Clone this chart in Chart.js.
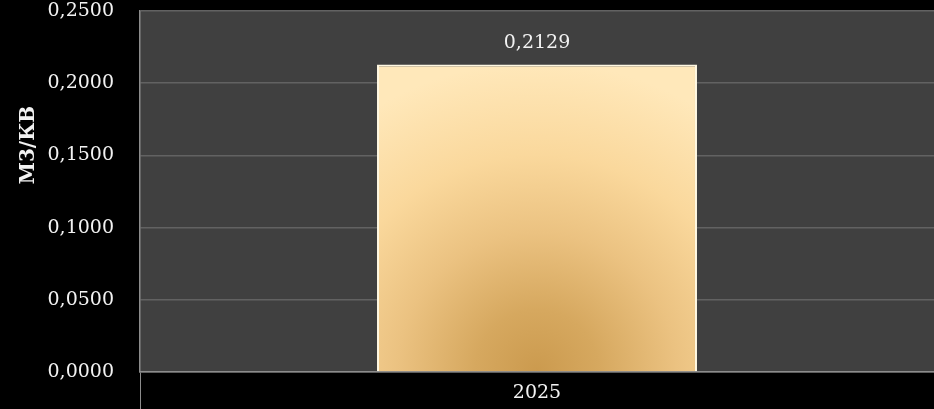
<!DOCTYPE html>
<html>
<head>
<meta charset="utf-8">
<script src="https://cdn.jsdelivr.net/npm/chart.js@4"></script>
<style>
  html, body { margin: 0; padding: 0; background: #000; }
  #wrap { width: 934px; height: 409px; position: relative; }
</style>
</head>
<body>
<div id="wrap"><canvas id="chart"></canvas></div>
<script>
// dane
const categories = ['2025'];
const values = [0.2129];
const yTicks = [0, 0.05, 0.10, 0.15, 0.20, 0.25];
const yTitle = 'М3/КВ';

const FONT = '"DejaVu Serif", "Liberation Serif", serif';
const fmt = v => v.toFixed(4).replace('.', ',');

// tło obszaru wykresu + tytuł osi Y + etykieta wartości
const decor = {
  id: 'decor',
  beforeDraw(chart) {
    const { ctx, chartArea: a } = chart;
    ctx.save();
    ctx.fillStyle = '#404040';
    ctx.fillRect(a.left, a.top, a.right - a.left, a.bottom - a.top);
    ctx.restore();
  },
  afterDatasetsDraw(chart) {
    const { ctx } = chart;
    const meta = chart.getDatasetMeta(0);
    ctx.save();
    ctx.fillStyle = '#f2f2f2';
    ctx.font = '19px ' + FONT;
    ctx.textAlign = 'center';
    ctx.textBaseline = 'middle';
    meta.data.forEach((bar, i) => {
      ctx.fillText(fmt(values[i]), bar.x, bar.y - 22);
    });
    // tytuł osi Y
    ctx.translate(29, 145);
    ctx.rotate(-Math.PI / 2);
    ctx.font = 'bold 20px ' + FONT;
    ctx.fillText(yTitle, 0, 0);
    ctx.restore();
  }
};

function barFill(context) {
  const chart = context.chart;
  const { ctx, chartArea, scales } = chart;
  if (!chartArea) return '#E8BE7A';
  const cx = scales.x.getPixelForValue(context.dataIndex);
  const bottom = scales.y.getPixelForValue(0);
  const g = ctx.createRadialGradient(cx, bottom, 0, cx, bottom, 310);
  g.addColorStop(0, '#CB9A4E');
  g.addColorStop(0.2, '#D6A85F');
  g.addColorStop(0.45, '#EBC281');
  g.addColorStop(0.7, '#FAD89C');
  g.addColorStop(1, '#FFE8BA');
  return g;
}

new Chart(document.getElementById('chart'), {
  type: 'bar',
  data: {
    labels: categories,
    datasets: [{
      data: values,
      backgroundColor: barFill,
      borderColor: '#FFF8E2',
      borderWidth: 2,
      barPercentage: 0.403,
      categoryPercentage: 1
    }]
  },
  options: {
    responsive: true,
    maintainAspectRatio: false,
    animation: false,
    layout: { padding: { top: 11, right: 0, left: 0, bottom: 0 } },
    plugins: { legend: { display: false }, tooltip: { enabled: false } },
    scales: {
      x: {
        afterFit: s => { s.height = 37; s.paddingLeft = 0; s.paddingRight = 0; },
        grid: {
          drawOnChartArea: false,
          color: '#8c8c8c',
          tickLength: 37
        },
        border: { color: '#8c8c8c', width: 1.5 },
        ticks: {
          color: '#f2f2f2',
          font: { family: FONT, size: 19 },
          padding: -27
        }
      },
      y: {
        min: 0,
        max: 0.25,
        afterFit: s => { s.width = 140; s.paddingTop = 0; s.paddingBottom = 0; },
        afterBuildTicks: s => { s.ticks = yTicks.map(v => ({ value: v })); },
        grid: { color: '#626262', lineWidth: 1.5, drawTicks: false },
        border: { color: '#8c8c8c', width: 1.5 },
        ticks: {
          color: '#f2f2f2',
          font: { family: FONT, size: 19 },
          padding: 26,
          callback: v => fmt(v)
        }
      }
    }
  },
  plugins: [decor]
});
</script>
</body>
</html>
